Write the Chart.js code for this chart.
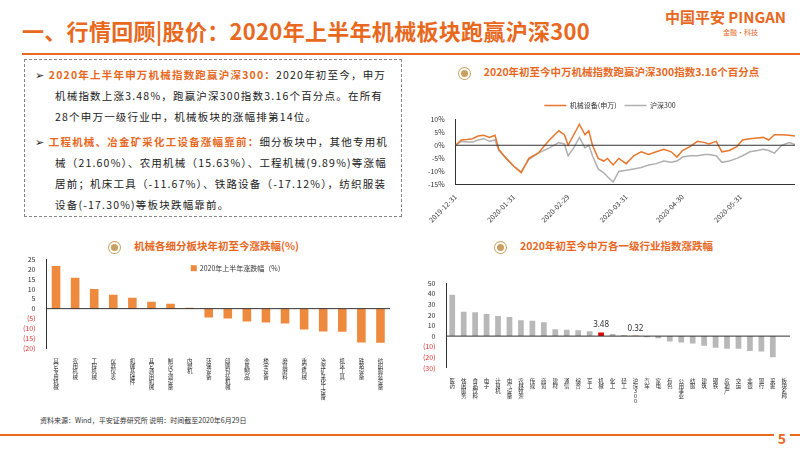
<!DOCTYPE html>
<html><head><meta charset="utf-8">
<script src="https://cdn.jsdelivr.net/npm/chart.js@4"></script>
<style>
body{margin:0;width:800px;height:450px;position:relative;background:#fff;font-family:"Noto Sans CJK SC","Noto Sans",sans-serif;overflow:hidden}
.abs{position:absolute}
#title{left:22px;top:14px;font-size:22px;font-weight:bold;color:#e8681e;letter-spacing:0.3px}
#rule{left:22px;top:53px;width:778px;height:2px;background:#e8681e}
#logo{right:14px;top:6px;color:#e8681e;font-weight:bold;font-size:15px;text-align:right}
#logo small{display:block;font-size:7px;color:#e8681e;font-weight:normal;margin-right:28px}
#box{left:24px;top:59px;width:378px;height:158px;border:1px dashed #888;font-size:10.5px;line-height:21px;color:#222;padding:4px 6px 0 6px;box-sizing:border-box;letter-spacing:1.2px}
#box p{margin:0 0 4px 0;padding-left:24px;text-indent:-20px}
#box b{color:#e8681e}
.ct{font-size:10.5px;font-weight:bold;color:#e8681e;text-align:center}
.ct:before{content:"";display:inline-block;width:7px;height:7px;border-radius:50%;background:#c9a060;box-shadow:0 0 0 2px #fff,0 0 0 3px #c9a060;margin-right:16px;vertical-align:middle}
#foot{left:40px;top:415px;font-size:7px;color:#333}
#fline{left:0;top:434px;width:800px;height:2px;background:#e8681e}
#page{right:10px;top:428px;font-size:14px;font-weight:bold;color:#e8681e;background:#fff;padding:0 4px}
</style></head><body>
<div id="title" class="abs">一、行情回顾|股价：2020年上半年机械板块跑赢沪深300</div>
<div id="rule" class="abs"></div>
<div id="logo" class="abs">中国平安 PINGAN<small>金融·科技</small></div>
<div id="box" class="abs">
<p>➢ <b>2020年上半年申万机械指数跑赢沪深300：</b>2020年初至今，申万机械指数上涨3.48%，跑赢沪深300指数3.16个百分点。在所有28个申万一级行业中，机械板块的涨幅排第14位。</p>
<p>➢ <b>工程机械、冶金矿采化工设备涨幅靠前：</b>细分板块中，其他专用机械（21.60%）、农用机械（15.63%）、工程机械(9.89%)等涨幅居前；机床工具（-11.67%）、铁路设备（-17.12%），纺织服装设备(-17.30%)等板块跌幅靠前。</p>
</div>
<div class="abs ct" style="left:425px;top:64px;width:370px">2020年初至今中万机械指数跑赢沪深300指数3.16个百分点</div>
<div class="abs" style="left:425px;top:94px;width:370px;height:130px"><canvas id="c1"></canvas></div>
<div class="abs ct" style="left:20px;top:238px;width:370px">机械各细分板块年初至今涨跌幅(%)</div>
<div class="abs" style="left:20px;top:252px;width:370px;height:150px"><canvas id="c2"></canvas></div>
<div class="abs ct" style="left:420px;top:238px;width:370px">2020年初至今中万各一级行业指数涨跌幅</div>
<div class="abs" style="left:420px;top:276px;width:370px;height:130px"><canvas id="c3"></canvas></div>
<div id="foot" class="abs">资料来源：Wind，平安证券研究所 说明：时间截至2020年6月29日</div>
<div id="fline" class="abs"></div>
<div id="page" class="abs">5</div>
<script>
const days = [0,3,6,9,12,15,18,21,23,27,31,35,39,44,50,55,58,60,63,66,69,71,73,76,79,81,84,87,91,95,99,103,107,111,115,118,121,125,129,133,135,139,142,146,150,153,157,161,164,167,170,174,178,181];
const jixie = [0,2,2.2,2.5,3.5,3.8,3,3.8,-1.5,-5,-8,-10.5,-5,-3,2,5.5,4,0,4,8,4,5.5,0,-5,-6,-5,-7.5,-5,-7,-4,-2.5,-3.5,-2.5,-1.5,-2.5,-4.5,-2,-0.5,1.5,1,0.5,1.5,-2.5,-2,-0.5,2,2.5,2.8,3,2,4,4,3.8,3.5];
const hs300 = [0,1.5,1.2,1.2,2,2.5,1.5,2,-2,-5,-8,-10,-5.5,-3,-1,1,0.5,-4,-1,3,-1,0,-4,-9,-10.5,-12,-14,-10,-9.5,-9,-8.5,-7.5,-7,-6,-6.5,-6,-4.5,-4,-4,-3.5,-3.5,-4,-6.5,-6,-5,-4,-2.5,-2,-1.5,-2,-3,0,1,0.3];
const tickDays = [0,31,60,91,121,152];
const tickNames = ['2019-12-31','2020-01-31','2020-02-29','2020-03-31','2020-04-30','2020-05-31'];

const subCats = ['其它专用机械','农用机械','工程机械','仪器仪表','机械基础件','其它通用机械','制冷空调设备','内燃机','环保设备','印刷包装机械','金属制品','楼宇设备','磨具磨料','重型机械','冶金矿采化工设备','机床工具','铁路设备','纺织服装设备'];
const subVals = [21.6,15.63,9.89,7,5.5,3.5,2.5,0.5,-4.5,-5,-6.5,-7,-7.5,-10.5,-11.5,-11.67,-17.12,-17.3];

const indCats = ['医药','休闲服务','食品饮料','电子','计算机','电气设备','农林牧渔','传媒','商贸','建材','通信','综合','军工','机械','化工','轻工','沪深300','汽车','家电','有色','公用事业','纺服','建筑','钢铁','房地产','交运','非银','银行','采掘','板块名称'];
const indVals = [39,23,22.5,21,19,18,15,14.5,13,6.5,6,5.5,4.5,3.48,2,1,0.32,-1,-2,-5,-6,-7,-9,-11,-12,-12,-14,-14.5,-20,null];

Chart.defaults.font.family = '"Noto Sans CJK SC","Noto Sans",sans-serif';
Chart.defaults.font.size = 7;
Chart.defaults.color = '#333';
Chart.defaults.animation = false;
const paren = v => v < 0 ? '(' + (-v) + ')' : String(v);
const negRed = c => c.tick && c.tick.value < 0 ? '#d33' : '#333';
const stack = s => s.split('');
const zeroLine = { id: 'zero', afterDatasetsDraw(c) { const y = c.scales.y.getPixelForValue(0), g = c.ctx;
  g.save(); g.strokeStyle = '#333'; g.lineWidth = 1; g.beginPath(); g.moveTo(c.chartArea.left, y); g.lineTo(c.chartArea.right, y); g.stroke(); g.restore(); } };

new Chart(document.getElementById('c1'), {
  type: 'line',
  data: { datasets: [
    { label: '机械设备(申万)', data: days.map((d,i)=>({x:d,y:jixie[i]})), borderColor: '#e8772e', borderWidth: 1.5, pointRadius: 0, tension: 0 },
    { label: '沪深300', data: days.map((d,i)=>({x:d,y:hs300[i]})), borderColor: '#b0b0b0', borderWidth: 1.5, pointRadius: 0, tension: 0 }
  ]},
  options: { responsive: true, maintainAspectRatio: false,
    plugins: { legend: { labels: { boxWidth: 22, boxHeight: 0, padding: 8, font: { size: 7 } } } },
    scales: {
      x: { type: 'linear', min: 0, max: 181, grid: { display: false }, border: { color: '#333' },
        afterBuildTicks: a => { a.ticks = tickDays.map(v=>({value:v})); },
        ticks: { maxRotation: 45, minRotation: 45, padding: 0, callback: v => tickNames[tickDays.indexOf(v)] } },
      y: { min: -15, max: 10, grid: { display: false }, border: { color: '#333' },
        ticks: { stepSize: 5, autoSkip: false, callback: v => v + '%' } }
    }
  },
  plugins: [zeroLine]
});

new Chart(document.getElementById('c2'), {
  type: 'bar',
  data: { labels: subCats.map(stack), datasets: [{ label: '2020年上半年涨跌幅（%）', data: subVals, backgroundColor: '#ee8a3e', barPercentage: 0.45, categoryPercentage: 1 }] },
  options: { responsive: true, maintainAspectRatio: false, layout: { padding: { top: 4 } },
    plugins: { legend: { display: false } },
    scales: {
      x: { grid: { display: false }, border: { display: false }, ticks: { autoSkip: false, maxRotation: 0, padding: 2, font: { size: 5.5, lineHeight: 0.95 } } },
      y: { min: -20, max: 25, grid: { display: false }, border: { color: '#333' },
        ticks: { stepSize: 5, autoSkip: false, callback: paren, color: negRed } }
    }
  },
  plugins: [zeroLine, { id: 'key', afterDraw(c) { const g = c.ctx, a = c.chartArea, x = a.left + a.width * 0.42, y = a.top + 9;
    g.save(); g.fillStyle = '#ee8a3e'; g.fillRect(x, y - 3, 6, 6); g.fillStyle = '#333'; g.font = '7px "Noto Sans CJK SC"'; g.textBaseline = 'middle';
    g.fillText(c.data.datasets[0].label, x + 9, y); g.restore(); } }]
});

new Chart(document.getElementById('c3'), {
  type: 'bar',
  data: { labels: indCats.map(stack), datasets: [{ data: indVals,
    backgroundColor: indCats.map(n => n === '机械' || n === '沪深300' ? '#e00000' : '#b8b8b8'), barPercentage: 0.5, categoryPercentage: 1 }] },
  options: { responsive: true, maintainAspectRatio: false, layout: { padding: { top: 6 } },
    plugins: { legend: { display: false } },
    scales: {
      x: { grid: { display: false }, border: { display: false }, ticks: { autoSkip: false, maxRotation: 0, padding: 2, font: { size: 5.5, lineHeight: 0.95 } } },
      y: { min: -30, max: 50, grid: { display: false }, border: { color: '#333' },
        ticks: { stepSize: 10, autoSkip: false, callback: paren, color: negRed } }
    }
  },
  plugins: [zeroLine, { id: 'marks', afterDatasetsDraw(c) { const g = c.ctx, m = c.getDatasetMeta(0);
    g.save(); g.fillStyle = '#333'; g.font = '8px "Noto Sans"'; g.textAlign = 'center';
    ['机械','沪深300'].forEach(n => { const i = indCats.indexOf(n), el = m.data[i]; g.fillText(indVals[i].toFixed(2), el.x, el.y - 5); });
    g.restore(); } }]
});
</script>
</body></html>
